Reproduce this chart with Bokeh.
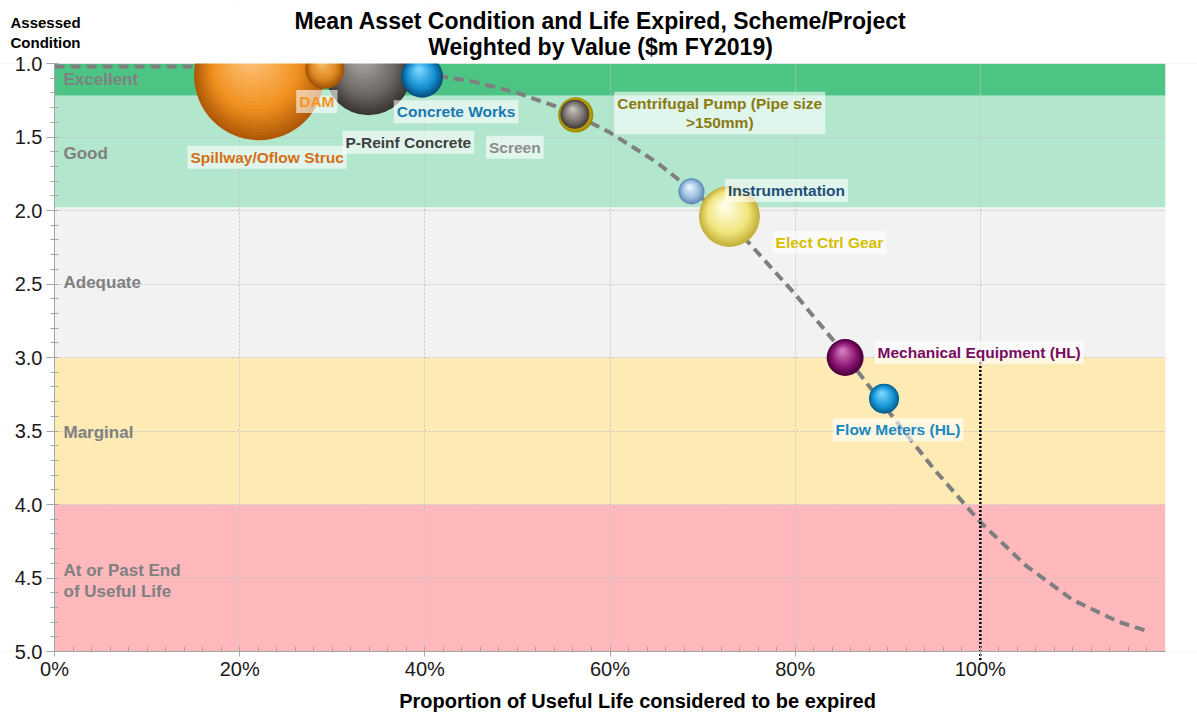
import numpy as np
from bokeh.plotting import figure
from bokeh.models import (ColumnDataSource, Range1d, SingleIntervalTicker,
                          NumeralTickFormatter)
from bokeh.core.properties import value
from bokeh.embed import file_html
from bokeh.resources import INLINE

# ---------------- data ----------------
title_lines = ["Mean Asset Condition and Life Expired, Scheme/Project",
               "Weighted by Value ($m FY2019)"]
y_title = ["Assessed", "Condition"]
x_title = "Proportion of Useful Life considered to be expired"

band_names = ["Excellent", "Good", "Adequate", "Marginal", "At or Past End\nof Useful Life"]
band_top = [1.0, 1.22, 1.98, 3.0, 4.0]
band_bottom = [1.22, 1.98, 3.0, 4.0, 5.0]
band_label_y = [1.11, 1.61, 2.49, 3.51, 4.52]

assets = ["Spillway/Oflow Struc", "P-Reinf Concrete", "DAM", "Concrete Works",
          "Centrifugal Pump (Pipe size\n>150mm)", "Screen", "Instrumentation",
          "Elect Ctrl Gear", "Mechanical Equipment (HL)", "Flow Meters (HL)"]
life_expired = [0.221, 0.339, 0.292, 0.397, 0.563, 0.562, 0.688, 0.729, 0.854, 0.896]
condition = [1.08, 1.06, 1.04, 1.09, 1.35, 1.345, 1.87, 2.04, 3.00, 3.28]
value_m = [42.3, 18.5, 3.8, 4.4, 3.1, 2.1, 1.7, 9.3, 3.4, 2.25]

curve_x = [0.0, 0.05, 0.10, 0.15, 0.20, 0.25, 0.30, 0.35, 0.40, 0.45, 0.50, 0.55, 0.60,
           0.65, 0.70, 0.75, 0.80, 0.85, 0.90, 0.95, 1.00, 1.05, 1.10, 1.15, 1.18]
curve_y = [1.02, 1.02, 1.02, 1.02, 1.02, 1.02, 1.03, 1.04, 1.07, 1.12, 1.20, 1.31, 1.47,
           1.67, 1.92, 2.22, 2.57, 2.95, 3.36, 3.76, 4.12, 4.42, 4.65, 4.80, 4.86]

threshold_x = 1.0
threshold_y = [3.03, 5.06]

x_min, x_max = 0.0, 1.2
y_best, y_worst = 1.0, 5.0
x_ticks_interval = 0.2
y_ticks_interval = 0.5

# ---------------- styles / layout ----------------
FONT = "Liberation Sans"
band_colors = ["#4cc584", "#b2e7cd", "#f2f2f2", "#fdeab4", "#ffb9bd"]
sphere_colors = [  # dark edge, mid, highlight
    ("#b05a08", "#f0901e", "#ffc37a"),
    ("#3a3634", "#6c6764", "#aca6a2"),
    ("#a05406", "#de8620", "#f8bc66"),
    ("#084f80", "#1590d0", "#78d4ff"),
    ("#a08a00", "#d8c000", "#f2e470"),
    ("#443e3a", "#7a736e", "#c4beb8"),
    ("#5f88b2", "#98bce0", "#e6f3ff"),
    ("#c4b23c", "#f2e67e", "#fffde6"),
    ("#4a003a", "#8a1472", "#d27abc"),
    ("#08608e", "#1898d8", "#78d6ff"),
]
label_colors = ["#d46e14", "#404040", "#f7941d", "#1a78b4", "#8a7a10", "#8c8c8c",
                "#1f4e79", "#d4c000", "#7a0a60", "#1a88c0"]
label_dx = [8, 40, -8, 34, 144, -60, 95, 100, 134, 14]
label_dy = [82, 70, 32, 35, -2, 33, -1, 26, -5, 31]

W, H = 1197, 713
AX_LEFT, AX_TOP = 54, 63      # page position of (0%, 1.0)
AX_RIGHT, AX_BOTTOM = 1165, 651  # page position of (120%, 5.0)
px_x = (AX_RIGHT - AX_LEFT) / (x_max - x_min)
px_y = (AX_BOTTOM - AX_TOP) / (y_worst - y_best)
xr0 = x_min - AX_LEFT / px_x
xr1 = x_max + (W - AX_RIGHT) / px_x
yr0 = y_best - AX_TOP / px_y
yr1 = y_worst + (H - AX_BOTTOM) / px_y

p = figure(width=W, height=H, output_backend="svg", toolbar_location=None,
           x_range=Range1d(xr0, xr1), y_range=Range1d(yr1, yr0),
           min_border_left=0, min_border_right=0, min_border_top=0, min_border_bottom=0)
p.title.visible = False
p.outline_line_color = None
p.background_fill_color = "white"


def page_x(px):
    return x_min + (px - AX_LEFT) / px_x


def page_y(py):
    return y_best + (py - AX_TOP) / px_y


# bands
n = len(band_top)
p.quad(left=[x_min] * n, right=[x_max] * n, top=band_top, bottom=band_bottom,
       fill_color=band_colors, line_color=None, level="underlay")

# grid
for g in (p.xgrid, p.ygrid):
    g.grid_line_color = "#c4c4c4"
    g.grid_line_dash = "2 2"
    g.grid_line_width = 1

# band labels
p.text(x=[x_min] * n, y=band_label_y, text=band_names, x_offset=9,
       text_baseline="middle", text_align="left", text_font=value(FONT),
       text_font_style="bold", text_font_size="17px", text_color="#808080",
       text_line_height=1.15)

# curve
p.line(curve_x, curve_y, line_color="#7f7f7f", line_width=4, line_dash="10 6")


def mix(c1, c2, t):
    t = max(0.0, min(1.0, t))
    a = [int(c1[i:i + 2], 16) for i in (1, 3, 5)]
    b = [int(c2[i:i + 2], 16) for i in (1, 3, 5)]
    return "#%02x%02x%02x" % tuple(int(round(a[k] + (b[k] - a[k]) * t)) for k in range(3))


N = 22
for i in range(len(assets)):
    d = 20 * np.sqrt(value_m[i])
    R = d / 2
    dark, mid, light = sphere_colors[i]
    xs, ys, ss, cs = [], [], [], []
    for k in range(N):
        t = k / (N - 1)
        ss.append(d * (1 - 0.9 * t))
        xs.append(life_expired[i] - 0.15 * R * t / px_x)
        ys.append(condition[i] - 0.35 * R * t / px_y)
        if t < 0.35:
            cs.append(mix(dark, mid, t / 0.35))
        else:
            cs.append(mix(mid, light, (t - 0.35) / 0.65))
    p.scatter(xs, ys, size=ss, fill_color=cs, line_color=None, marker="circle")

# white mask outside the plotting area (clips bubbles at the plot edges)
p.quad(left=[xr0, xr0, xr0, x_max], right=[xr1, xr1, x_min, xr1],
       top=[yr0, y_worst, y_best, y_best], bottom=[y_best, yr1, y_worst, y_worst],
       fill_color="white", line_color=None)

# threshold
p.segment(x0=[threshold_x], y0=[threshold_y[0]], x1=[threshold_x], y1=[threshold_y[1]],
          line_color="black", line_width=2.5, line_dash="2 2")

# bubble labels
lsrc = ColumnDataSource(dict(x=life_expired, y=condition, text=assets,
                             color=label_colors, dx=label_dx, dy=label_dy))
p.text(x="x", y="y", text="text", source=lsrc, x_offset="dx", y_offset="dy",
       text_align="center", text_baseline="middle", text_color="color",
       text_font=value(FONT), text_font_style="bold", text_font_size="15.5px",
       text_line_height=1.15,
       background_fill_color="white", background_fill_alpha=0.6, padding=3)

# titles
p.text(x=[page_x(600)] * 2, y=[page_y(20), page_y(46)], text=title_lines,
       text_align="center", text_baseline="middle", text_font=value(FONT),
       text_font_style="bold", text_font_size="23px", text_color="black")
p.text(x=[page_x(10)] * 2, y=[page_y(22), page_y(42)], text=y_title,
       text_align="left", text_baseline="middle", text_font=value(FONT),
       text_font_style="bold", text_font_size="15px", text_color="black")
p.text(x=[page_x(637)], y=[page_y(700)], text=[x_title],
       text_align="center", text_baseline="middle", text_font=value(FONT),
       text_font_style="bold", text_font_size="20px", text_color="black")

# axes
p.yaxis.fixed_location = x_min
p.xaxis.fixed_location = y_worst
p.xaxis.ticker = SingleIntervalTicker(interval=x_ticks_interval, num_minor_ticks=10)
p.yaxis.ticker = SingleIntervalTicker(interval=y_ticks_interval, num_minor_ticks=5)
p.xgrid.ticker = p.xaxis.ticker
p.ygrid.ticker = p.yaxis.ticker
p.xaxis.bounds = (x_min, x_max)
p.yaxis.bounds = (y_best, y_worst)
p.xaxis.formatter = NumeralTickFormatter(format="0%")
p.yaxis.formatter = NumeralTickFormatter(format="0.0")
for ax in (p.xaxis, p.yaxis):
    ax.axis_line_color = "#a6a6a6"
    ax.major_tick_line_color = "#a6a6a6"
    ax.minor_tick_line_color = "#a6a6a6"
    ax.major_label_text_font = FONT
    ax.major_label_text_font_size = "20px"
    ax.major_label_text_color = "#1a1a1a"
p.xaxis.major_tick_out = 5
p.xaxis.major_tick_in = 0
p.xaxis.minor_tick_in = 5
p.xaxis.minor_tick_out = 0
p.xaxis.major_label_standoff = 1
p.yaxis.major_tick_out = 8
p.yaxis.major_tick_in = 0
p.yaxis.minor_tick_in = 4
p.yaxis.minor_tick_out = 4
p.yaxis.major_label_standoff = 4

open("out.html", "w").write(file_html(p, INLINE))
